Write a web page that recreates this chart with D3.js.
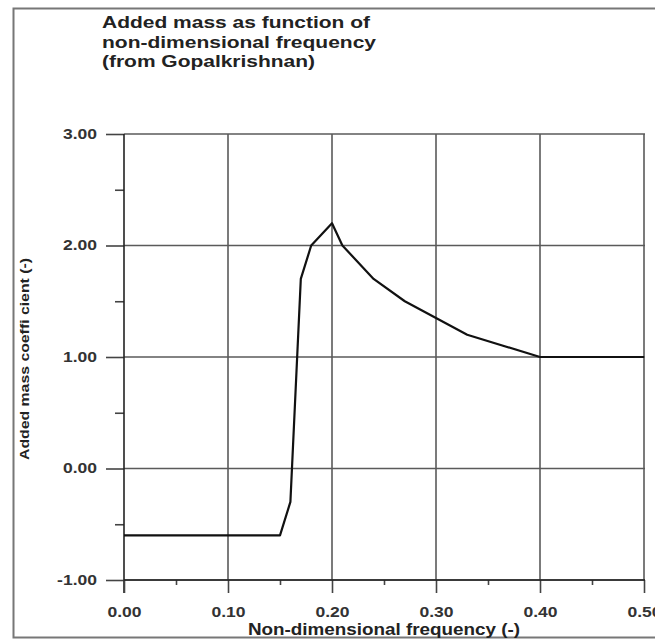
<!DOCTYPE html>
<html lang="en">
<head>
<meta charset="UTF-8">
<title>Added mass</title>
<script src="https://d3js.org/d3.v7.min.js"></script>
<style>
  body { margin: 0; background: #fff; }
  svg { display: block; font-family: "Liberation Sans", Arial, sans-serif; }
  .tick text { font-weight: bold; font-size: 14px; fill: #333; }
</style>
</head>
<body>
<svg width="655" height="640"></svg>
<script>
// data
let freq = [0.00, 0.15, 0.16, 0.17, 0.18, 0.20, 0.21, 0.24, 0.27, 0.30, 0.33, 0.40, 0.50];
let addedMass = [-0.6, -0.6, -0.3, 1.7, 2.0, 2.2, 2.0, 1.7, 1.5, 1.35, 1.2, 1.0, 1.0];
let xMajor = [0, 0.1, 0.2, 0.3, 0.4, 0.5];
let xMinor = [0.05, 0.15, 0.25, 0.35, 0.45];
let yMajor = [-1, 0, 1, 2, 3];
let yMinor = [-0.5, 0.5, 1.5, 2.5];
let titleLines = ["Added mass as function of", "non-dimensional frequency", "(from Gopalkrishnan)"];
let titleWidths = [268, 274, 213];

let svg = d3.select('svg');
let plot = {left: 124, right: 644, top: 134, bottom: 580};

let x = d3.scaleLinear().domain([0, 0.5]).range([plot.left, plot.right]);
let y = d3.scaleLinear().domain([-1, 3]).range([plot.bottom, plot.top]);
let fmt = d => d.toFixed(2);   // plain hyphen minus like the original

// the original text is drawn wide, so stretch it
function stretch(sel, factor) {
  sel.each(function () {
    let w = this.getComputedTextLength();
    d3.select(this).attr('textLength', w * factor).attr('lengthAdjust', 'spacingAndGlyphs');
  });
}

// outer frame
svg.append('rect')
  .attr('x', 13.5).attr('y', 8.5).attr('width', 660).attr('height', 629)
  .attr('fill', 'none').attr('stroke', '#777').attr('stroke-width', 2);

// title
svg.selectAll('.title').data(titleLines).enter().append('text')
  .attr('class', 'title')
  .attr('x', 102).attr('y', (d, i) => [28, 47.5, 67][i])
  .attr('textLength', (d, i) => titleWidths[i]).attr('lengthAdjust', 'spacingAndGlyphs')
  .style('font-weight', 'bold').style('font-size', '16px').style('fill', '#222')
  .text(d => d);

// grid
let grid = svg.append('g').attr('stroke', '#5a5a5a').attr('stroke-width', 1.6);
grid.selectAll('.hg').data(yMajor).enter().append('line')
  .attr('x1', plot.left).attr('x2', plot.right + 1)
  .attr('y1', d => y(d)).attr('y2', d => y(d));
grid.selectAll('.vg').data(xMajor.slice(1)).enter().append('line')
  .attr('x1', d => x(d)).attr('x2', d => x(d))
  .attr('y1', plot.top).attr('y2', plot.bottom);

// y axis
let yAxis = svg.append('g').attr('transform', 'translate(' + plot.left + ',0)')
  .call(d3.axisLeft(y).tickValues(yMajor).tickSize(18).tickPadding(9).tickFormat(fmt));
svg.append('g').attr('transform', 'translate(' + plot.left + ',0)')
  .call(d3.axisLeft(y).tickValues(yMinor).tickSize(9).tickFormat(''))
  .select('.domain').remove();
yAxis.select('.domain').remove();
svg.append('line')
  .attr('x1', plot.left).attr('x2', plot.left)
  .attr('y1', plot.top).attr('y2', plot.bottom + 13)
  .attr('stroke', '#222').attr('stroke-width', 1.6);

// x axis
let xAxis = svg.append('g').attr('transform', 'translate(0,' + plot.bottom + ')')
  .call(d3.axisBottom(x).tickValues(xMajor).tickSize(13).tickPadding(14).tickFormat(fmt));
xAxis.select('.domain').remove();
svg.append('g').attr('transform', 'translate(0,' + plot.bottom + ')')
  .call(d3.axisBottom(x).tickValues(xMinor).tickSize(5).tickFormat(''))
  .select('.domain').remove();
svg.append('line')
  .attr('x1', plot.left).attr('x2', plot.right + 1)
  .attr('y1', plot.bottom).attr('y2', plot.bottom)
  .attr('stroke', '#222').attr('stroke-width', 1.6);

svg.selectAll('.tick line').attr('stroke', '#444').attr('stroke-width', 1.6);
stretch(svg.selectAll('.tick text'), 1.25);

// axis titles
svg.append('text')
  .attr('x', 248).attr('y', 635)
  .attr('textLength', 272).attr('lengthAdjust', 'spacingAndGlyphs')
  .style('font-weight', 'bold').style('font-size', '16px').style('fill', '#222')
  .text('Non-dimensional frequency (-)');
svg.append('text')
  .attr('transform', 'translate(29,460) rotate(-90)')
  .attr('textLength', 202).attr('lengthAdjust', 'spacingAndGlyphs')
  .style('font-weight', 'bold').style('font-size', '13px').style('fill', '#222')
  .text('Added mass coeffi cient (-)');

// curve
let line = d3.line().x(d => x(d[0])).y(d => y(d[1]));
svg.append('path')
  .datum(freq.map((f, i) => [f, addedMass[i]]))
  .attr('d', line)
  .attr('fill', 'none').attr('stroke', '#111').attr('stroke-width', 2.2)
  .attr('stroke-linejoin', 'round');
</script>
</body>
</html>
